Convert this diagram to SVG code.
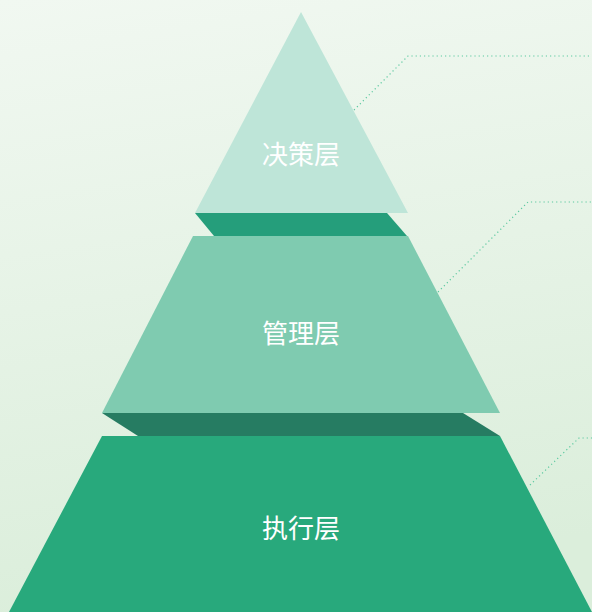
<svg xmlns="http://www.w3.org/2000/svg" width="592" height="612" viewBox="0 0 592 612">
<defs>
<linearGradient id="bg" x1="0" y1="0" x2="0.15" y2="1">
<stop offset="0" stop-color="#f1f8f1"/>
<stop offset="1" stop-color="#dbeedb"/>
</linearGradient>
<style>
.lbl{font-family:"Noto Sans CJK SC","Noto Sans",sans-serif;font-size:26px;fill:#ffffff;text-anchor:middle;dominant-baseline:central}
.conn{fill:none;stroke:#5cc9a0;stroke-width:1.2;stroke-dasharray:1.2 3}
</style>
</defs>
<rect width="592" height="612" fill="url(#bg)"/>
<g id="connectors">
<polyline class="conn" points="354,110 408,56 592,56"/>
<polyline class="conn" points="438,292 528,202 592,202"/>
<polyline class="conn" points="530,485 579,438 592,438"/>
</g>
<g id="layer-top">
<polygon points="195,213 387,213 407,236 214,236" fill="#259e7b"/>
<polygon points="301,12 195,213 408,213" fill="#bee5d8"/>
<text class="lbl" x="301" y="152">决策层</text>
</g>
<g id="layer-middle">
<polygon points="102,413 463,413 500,436 138,436" fill="#267c62"/>
<polygon points="193,236 408,236 500,413 102,413" fill="#7fcbb0"/>
<text class="lbl" x="301" y="331.5">管理层</text>
</g>
<g id="layer-bottom">
<polygon points="102,436 500,436 592,612 9,612" fill="#28a97c"/>
<text class="lbl" x="301" y="526.5">执行层</text>
</g>
</svg>
